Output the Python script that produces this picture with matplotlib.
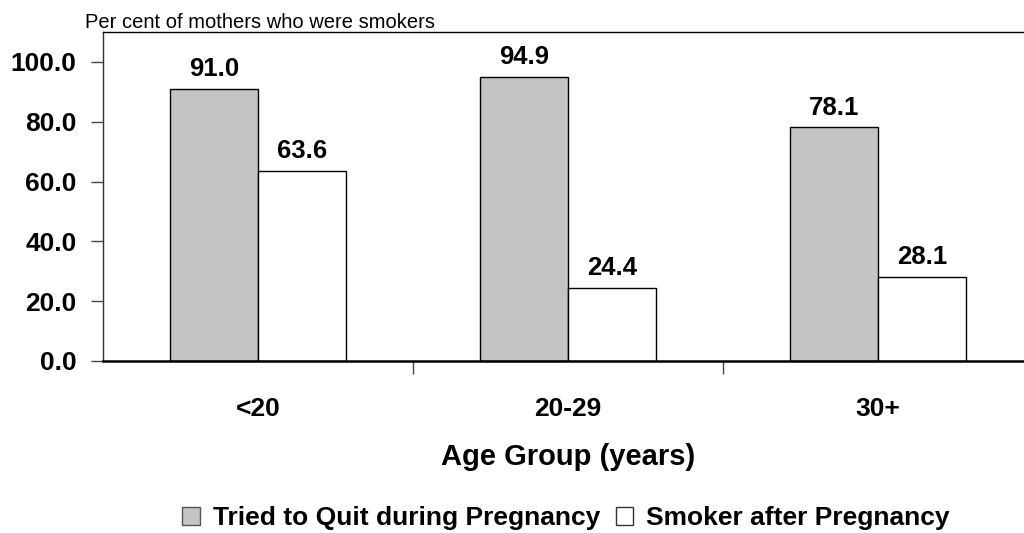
import matplotlib.pyplot as plt
import numpy as np
from matplotlib.ticker import FixedLocator
from matplotlib.patches import Patch

plt.rcParams['font.family'] = ['Liberation Sans', 'DejaVu Sans']

age_groups = ['<20', '20-29', '30+']
tried_to_quit = [91.0, 94.9, 78.1]
smoker_after = [63.6, 24.4, 28.1]
series_names = ['Tried to Quit during Pregnancy', 'Smoker after Pregnancy']
y_ticks = [0, 20, 40, 60, 80, 100]

fig = plt.figure(figsize=(10.24, 5.33), dpi=100)
ax = fig.add_axes([103 / 1024, 1 - 361 / 533, 930 / 1024, 329 / 533])

x = np.arange(len(age_groups))
w = 0.284
b1 = ax.bar(x - w / 2, tried_to_quit, w, color='#c4c4c4', edgecolor='black', linewidth=1)
b2 = ax.bar(x + w / 2, smoker_after, w, color='white', edgecolor='black', linewidth=1)

# value labels above each bar
for bars, vals in ((b1, tried_to_quit), (b2, smoker_after)):
    for rect, v in zip(bars, vals):
        ax.text(rect.get_x() + rect.get_width() / 2, v + 2.6, f'{v:.1f}',
                ha='center', va='bottom', fontsize=18.5, fontweight='bold')

ax.set_xlim(-0.5, len(age_groups) - 0.5)
ax.set_ylim(0, 110)
ax.yaxis.set_major_locator(FixedLocator(y_ticks))
ax.set_yticklabels([f'{v:.1f}' for v in y_ticks], fontsize=19, fontweight='bold')
ax.set_xticks(x)
ax.set_xticklabels(age_groups, fontsize=19, fontweight='bold')
ax.xaxis.set_minor_locator(FixedLocator(x[:-1] + 0.5))
ax.tick_params(axis='x', which='major', length=0, pad=26)
ax.tick_params(axis='x', which='minor', length=9, width=1, color='#444444')
ax.tick_params(axis='y', length=9, width=1, color='#444444', pad=10)
for s in ax.spines.values():
    s.set_linewidth(1)
ax.spines['bottom'].set_linewidth(1.8)
ax.spines['left'].set_color('#333333')

ax.set_xlabel('Age Group (years)', fontsize=21, fontweight='bold', labelpad=16)
fig.text(85 / 1024, 1 - 22 / 533, 'Per cent of mothers who were smokers',
         fontsize=14.5, va='center', ha='left')

handles = [Patch(facecolor='#c4c4c4', edgecolor='#555555'),
           Patch(facecolor='white', edgecolor='#333333')]
fig.legend(handles, series_names, loc='center', bbox_to_anchor=(566 / 1024, 1 - 518 / 533),
           ncol=2, frameon=False, handlelength=0.65, handleheight=0.65, handletextpad=0.5,
           columnspacing=0.6, borderpad=0,
           prop={'weight': 'bold', 'size': 19})

fig.savefig('out.png', dpi=100)
